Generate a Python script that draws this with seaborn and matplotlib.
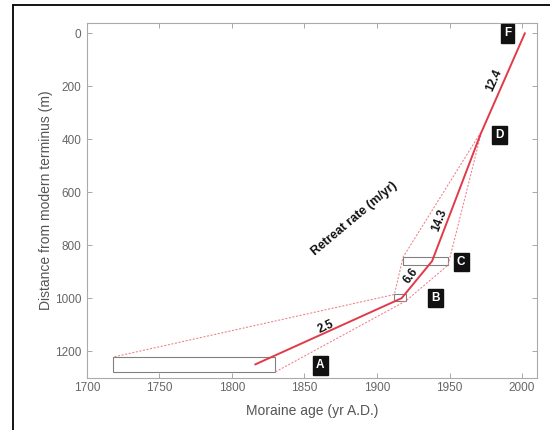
import matplotlib
matplotlib.use("Agg")
import matplotlib.pyplot as plt
from matplotlib.patches import Rectangle
from matplotlib.lines import Line2D
import seaborn as sns
import pandas as pd

# ---- data ----
moraines = ["A", "B", "C", "D", "F"]
age_best = [1816, 1917, 1938, 1971.5, 2002]
dist_best = [1250, 1000, 860, 380, 0]

upper_age = [1719, 1912, 1918, 1971.5]
upper_dist = [1221, 986, 845, 375]
lower_age = [1830, 1920, 1949, 1971.5]
lower_dist = [1278, 1010, 875, 385]

box_age_min = [1718, 1912, 1918]
box_age_max = [1830, 1920, 1949]
box_dist_min = [1221, 986, 845]
box_dist_max = [1278, 1010, 875]

rates = ["2.5", "6.6", "14.3", "12.4"]

xticks = [1700, 1750, 1800, 1850, 1900, 1950, 2000]
yticks = [0, 200, 400, 600, 800, 1000, 1200]

sns.set_theme(style="white")
plt.rcParams['font.family'] = ['Liberation Sans', 'DejaVu Sans']

fig = plt.figure(figsize=(5.5, 4.3), dpi=100)
ax = fig.add_axes([0.158, 0.1216, 0.8175, 0.8242])

red = "#e23a48"
env = pd.DataFrame({
    "age": upper_age + lower_age,
    "dist": upper_dist + lower_dist,
    "side": ["u"] * len(upper_age) + ["l"] * len(lower_age),
})
for side in ["u", "l"]:
    sub = env[env.side == side]
    sns.lineplot(data=sub, x="age", y="dist", sort=False, ax=ax,
                 color="#ee7f88", lw=0.75, linestyle=(0, (2, 1.5)),
                 estimator=None)

best = pd.DataFrame({"age": age_best, "dist": dist_best})
sns.lineplot(data=best, x="age", y="dist", sort=False, ax=ax,
             color=red, lw=1.4, estimator=None)

for a0, a1, d0, d1 in zip(box_age_min, box_age_max, box_dist_min, box_dist_max):
    ax.add_patch(Rectangle((a0, d0), a1 - a0, d1 - d0, fill=False,
                           ec="#808080", lw=0.8, zorder=1))

ax.set_xlim(1700, 2010)
ax.set_ylim(1300, -37)
ax.set_xticks(xticks)
ax.set_yticks(yticks)
ax.tick_params(direction="in", length=3.5, width=0.6, color="#999999",
               labelsize=8.5, labelcolor="#666666", top=True, right=True,
               bottom=True, left=True, pad=4)
ax.tick_params(axis="x", pad=3)
for s in ax.spines.values():
    s.set_color("#aaaaaa")
    s.set_linewidth(0.8)

ax.set_xlabel("Moraine age (yr A.D.)", fontsize=10, color="#555555", labelpad=7)
ax.set_ylabel("Distance from modern terminus (m)", fontsize=10, color="#555555",
              labelpad=1)

# rate labels
rate_pos = [(1864.6, 1108, 24), (1923.8, 915, 53), (1943, 706, 69), (1981, 177, 66)]
for txt, (x, y, r) in zip(rates, rate_pos):
    ax.text(x, y, txt, rotation=r, ha="center", va="center", fontsize=8.5,
            fontweight="bold", color="#111111")
ax.text(1884.6, 702, "Retreat rate (m/yr)", rotation=40, ha="center", va="center",
        fontsize=9, fontweight="bold", color="#111111")

# moraine badges
badge_pos = [(1861, 1253), (1940.4, 999), (1958, 863), (1984.4, 385), (1990, 1)]
for lab, (x, y) in zip(moraines, badge_pos):
    ax.text(x, y, lab, ha="center", va="center", fontsize=8.5, fontweight="bold",
            color="white",
            bbox=dict(boxstyle="square,pad=0.28", fc="#111111", ec="#111111"))

# outer frame (left and top)
fig.add_artist(Line2D([12.7 / 550, 12.7 / 550], [0, 1 - 5 / 430],
                      transform=fig.transFigure, color="black", lw=1.3))
fig.add_artist(Line2D([12.7 / 550, 1], [1 - 5 / 430, 1 - 5 / 430],
                      transform=fig.transFigure, color="black", lw=1.3))

fig.savefig("out.png", dpi=100)
